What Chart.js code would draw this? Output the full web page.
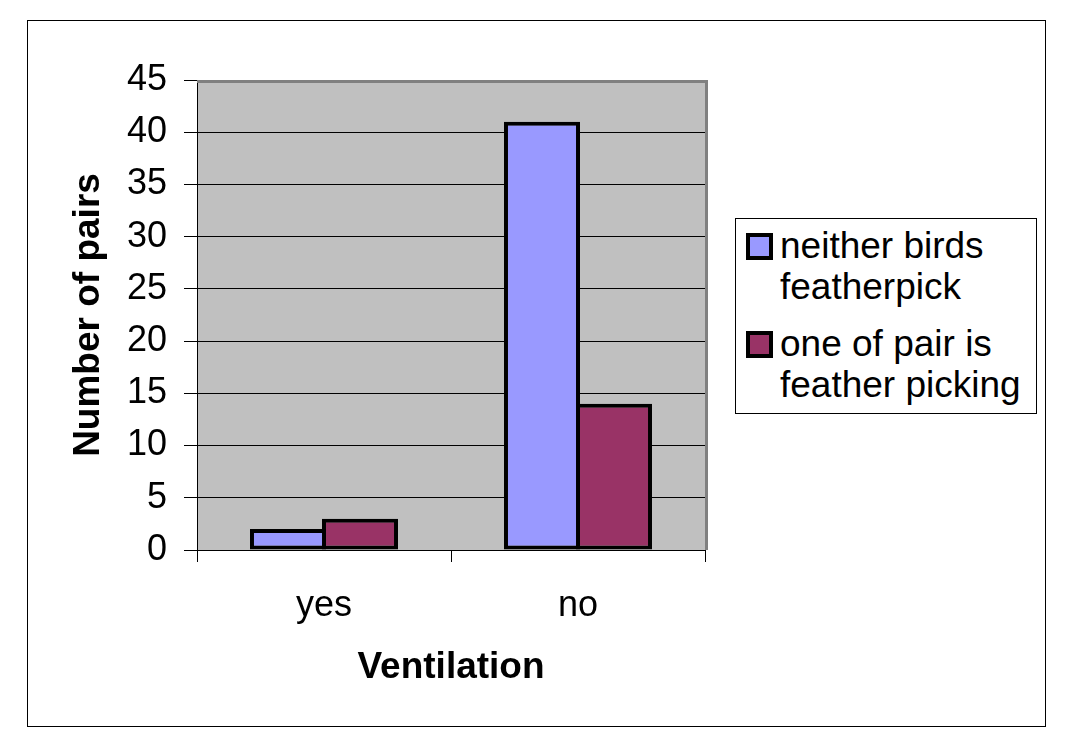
<!DOCTYPE html>
<html>
<head>
<meta charset="utf-8">
<script src="https://cdn.jsdelivr.net/npm/chart.js@4"></script>
<style>
  html, body { margin: 0; padding: 0; background: #fff; }
  #wrap { position: relative; width: 1067px; height: 755px; }
  #frame { position: absolute; left: 27px; top: 20px; width: 1019px; height: 707px; border: 1px solid #000; box-sizing: border-box; pointer-events: none; }
  #chart-box { position: absolute; left: 0; top: 0; width: 1067px; height: 755px; }
  #legend {
    position: absolute; left: 735px; top: 218px; width: 302px; height: 196px;
    border: 1px solid #000; box-sizing: border-box; background: #fff;
    font-family: 'Liberation Sans', Arial, sans-serif; font-size: 37px; line-height: 41px; color: #000;
    padding-top: 6px;
  }
  .item { position: relative; padding-left: 44px; padding-right: 2px; margin-bottom: 16px; }
  .swatch { position: absolute; left: 10px; top: 8px; width: 27px; height: 27px; border: 4px solid #000; box-sizing: border-box; }
</style>
</head>
<body>
<div id="wrap">
  <div id="chart-box"><canvas id="chart"></canvas></div>
  <div id="frame"></div>
  <div id="legend"></div>
</div>
<script>
const categories = ['yes', 'no'];
const neitherPick = [2, 41];
const onePicking = [3, 14];
const seriesNames = ['neither birds featherpick', 'one of pair is feather picking'];
const seriesColors = ['#9999FF', '#993366'];

Chart.defaults.font.family = "'Liberation Sans', Arial, sans-serif";
Chart.defaults.color = '#000';

const plotArea = {
  id: 'plotArea',
  beforeDraw(chart) {
    const { ctx, chartArea: a } = chart;
    ctx.save();
    ctx.fillStyle = '#C0C0C0';
    ctx.fillRect(a.left, a.top, a.right - a.left, a.bottom - a.top);
    ctx.restore();
  },
  afterDraw(chart) {
    const { ctx, chartArea: a } = chart;
    ctx.save();
    ctx.strokeStyle = '#808080';
    ctx.lineWidth = 3;
    ctx.beginPath();
    ctx.moveTo(a.left, a.top + 1.5);
    ctx.lineTo(a.right + 1.5, a.top + 1.5);
    ctx.lineTo(a.right + 1.5, a.bottom);
    ctx.stroke();
    ctx.restore();
  }
};

const chart = new Chart(document.getElementById('chart'), {
  type: 'bar',
  data: {
    labels: categories,
    datasets: [
      { label: seriesNames[0], data: neitherPick, backgroundColor: seriesColors[0] },
      { label: seriesNames[1], data: onePicking, backgroundColor: seriesColors[1] }
    ]
  },
  options: {
    responsive: true,
    maintainAspectRatio: false,
    animation: false,
    layout: { padding: { left: 67, top: 80, right: 362, bottom: 65 } },
    datasets: {
      bar: {
        borderColor: '#000',
        borderWidth: 4,
        borderSkipped: false,
        categoryPercentage: 0.567,
        barPercentage: 1.056
      }
    },
    plugins: {
      legend: { display: false },
      tooltip: { enabled: false }
    },
    scales: {
      x: {
        grid: { drawOnChartArea: false, color: '#000', tickLength: 12 },
        border: { color: '#000', width: 1 },
        ticks: { font: { size: 36 }, padding: 22 },
        title: { display: true, text: 'Ventilation', font: { size: 37, weight: 'bold' }, padding: 0 },
        afterFit: scale => { scale.height = 140; }
      },
      y: {
        min: 0,
        max: 45,
        ticks: { stepSize: 5, font: { size: 36 }, padding: 17 },
        grid: { color: '#000', tickLength: 13 },
        border: { color: '#000', width: 1 },
        title: { display: true, text: 'Number of pairs', font: { size: 37, weight: 'bold' }, padding: 0 },
        afterFit: scale => { scale.width = 130; }
      }
    }
  },
  plugins: [plotArea]
});

// legend as html so the labels can wrap like the original
const legend = document.getElementById('legend');
chart.data.datasets.forEach(ds => {
  const item = document.createElement('div');
  item.className = 'item';
  const sw = document.createElement('span');
  sw.className = 'swatch';
  sw.style.background = ds.backgroundColor;
  item.appendChild(sw);
  item.appendChild(document.createTextNode(ds.label));
  legend.appendChild(item);
});
</script>
</body>
</html>
